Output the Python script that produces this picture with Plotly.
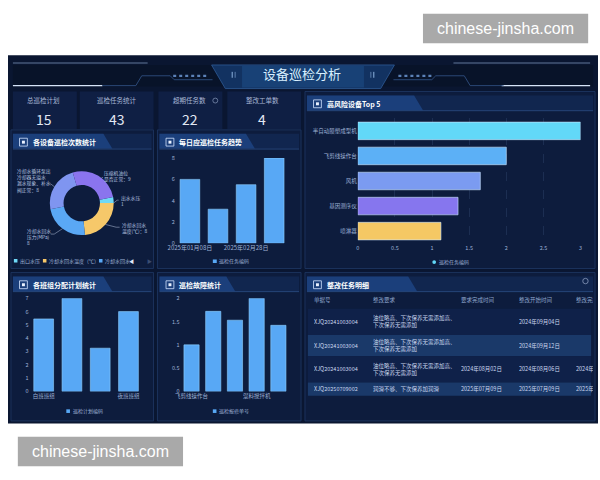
import plotly.graph_objects as go

W, H = 600, 480
FONT = "Noto Sans CJK SC, Noto Sans, sans-serif"

# ---------------- data ----------------
dashboard_title = "设备巡检分析"
kpi_labels = ["总巡检计划", "巡检任务统计", "超期任务数", "整改工单数"]
kpi_values = [15, 43, 22, 4]

donut_labels = ["出口水压", "冷却水回水温度（℃）", "冷却水回水压力（MPa）",
                "冷却水循环泵出冷却器无溢水漏水现象、补水阀正常", "压缩机油位是否正常"]
donut_values = [1, 8, 8, 8, 9]
donut_colors = ["#6fd9f7", "#f6c86a", "#5aa8f5", "#7f95f0", "#8a74ee"]
donut_label_text = ["出水水压<br>1", "冷却水回水<br>温度(℃)：8", "冷却水回水<br>压力(MPa)<br>8",
                    "冷却水循环泵出<br>冷却器无溢水<br>漏水现象、补水<br>阀正常：8", "压缩机油位<br>是否正常：9"]
donut_legend = ["出口水压", "冷却水回水温度（℃）", "冷却水回水"]

trend_dates = ["2025年01月08日", "2025年02月10日", "2025年02月28日", "2025年03月12日"]
trend_values = [6, 3.2, 5.5, 8]
trend_series = "巡检任务编码"

top5_names = ["半自动膜塑成型机", "飞剪线操作台", "风机", "基因测序仪", "喷淋器"]
top5_values = [3, 2, 1.65, 1.35, 1.12]
top5_colors = ["#62d8f8", "#5cb0f6", "#7b9bf1", "#8676ee", "#f5c864"]
top5_series = "巡检任务编码"

team_names = ["白班班组", "中班班组", "早班班组", "夜班班组"]
team_values = [5.45, 7, 3.25, 6]
team_series = "巡检计划编码"

fault_names = ["飞剪线操作台", "注塑机", "冷却塔", "混料搅拌机", "空压机"]
fault_values = [1, 1.72, 1.53, 2, 1.42]
fault_series = "巡检报修单号"

tbl_headers = ["单据号", "整改要求", "要求完成时间", "整改开始时间", "整改完成时间"]
tbl_ids = ["XJQ20241003004", "XJQ20241003004", "XJQ20241003004", "XJQ20250709002"]
tbl_req = ["油位略高、下次保养无需添加高、<br>下次保养无需添加",
           "油位略高、下次保养无需添加高、<br>下次保养无需添加",
           "油位略高、下次保养无需添加高、<br>下次保养无需添加",
           "润滑不够、下次保养加润滑"]
tbl_due = ["", "", "2024年08月02日", "2025年07月09日"]
tbl_start = ["2024年09月04日", "2024年09月12日", "2024年08月06日", "2025年07月09日"]
tbl_done = ["", "", "2024年08月10日", "2025年07月10日"]

watermark = "chinese-jinsha.com"

# ---------------- helpers ----------------
BG = "#0a1631"
PANEL_BG = "#0d1c3d"
PANEL_BORDER = "#1f3866"
TICK = "#9fb2d6"
BAR = "#58a8f5"
BAR_LINE = "#8fd0ff"


def px(x):
    return x / W


def py(y):
    return 1 - y / H


shapes = []
annotations = []


def rect(x0, y0, x1, y1, fill, line=None, lw=0, opacity=1):
    shapes.append(dict(type="rect", xref="paper", yref="paper",
                       x0=px(x0), x1=px(x1), y0=py(y1), y1=py(y0),
                       fillcolor=fill, opacity=opacity, layer="below",
                       line=dict(color=line or "rgba(0,0,0,0)", width=lw)))


def circle(x0, y0, x1, y1, fill, line=None, lw=0):
    shapes.append(dict(type="circle", xref="paper", yref="paper",
                       x0=px(x0), x1=px(x1), y0=py(y1), y1=py(y0),
                       fillcolor=fill, layer="below",
                       line=dict(color=line or "rgba(0,0,0,0)", width=lw)))


def poly(points, fill=None, line=None, lw=0, closed=True):
    d = "M " + " L ".join(f"{px(x):.5f},{py(y):.5f}" for x, y in points)
    if closed:
        d += " Z"
    shapes.append(dict(type="path", xref="paper", yref="paper", path=d,
                       fillcolor=fill or "rgba(0,0,0,0)", layer="below",
                       line=dict(color=line or "rgba(0,0,0,0)", width=lw)))


def seg(x0, y0, x1, y1, color, w=1, dash="solid"):
    shapes.append(dict(type="line", xref="paper", yref="paper",
                       x0=px(x0), y0=py(y0), x1=px(x1), y1=py(y1), layer="below",
                       line=dict(color=color, width=w, dash=dash)))


def text(x, y, s, size, color, xanchor="center", yanchor="middle", bold=False,
         align="left", family=FONT, width=None):
    a = dict(xref="paper", yref="paper", x=px(x), y=py(y),
             text=f"<b>{s}</b>" if bold else s, showarrow=False,
             xanchor=xanchor, yanchor=yanchor, align=align, borderpad=0,
             font=dict(family=family, size=size, color=color))
    if width is not None:
        a["width"] = width
    annotations.append(a)


def panel(x0, y0, x1, y1, title, light_end):
    rect(x0, y0, x1, y1, PANEL_BG, PANEL_BORDER, 0.8)
    poly([(x0 + 2, y0 + 4), (x1 - 2, y0 + 4), (x1 - 2, y0 + 19), (x0 + 2, y0 + 19)],
         fill="rgba(22,48,95,0.55)")
    poly([(x0 + 2, y0 + 4), (light_end, y0 + 4), (light_end + 9, y0 + 19), (x0 + 2, y0 + 19)],
         fill="#1b3f7b")
    seg(x0 + 2, y0 + 19.5, x1 - 2, y0 + 19.5, "#2c4f88", 0.8)
    rect(x0 + 8.7, y0 + 8.5, x0 + 16.7, y0 + 16.5, "rgba(0,0,0,0)", "#d3e3ff", 0.8)
    rect(x0 + 11.2, y0 + 11, x0 + 14.2, y0 + 14, "#eaf2ff")
    text(x0 + 21, y0 + 12.5, title, 7, "#ffffff", xanchor="left", bold=True)


# ---------------- background ----------------
rect(0, 52, 600, 426.5, BG)

# header decoration
poly([(5, 62), (595, 62), (595, 84), (5, 84)], fill="#081329")
seg(5, 60, 142, 60, "rgba(170,200,240,0.55)", 1)
seg(5, 83, 96, 83, "#d6e4f8", 1.4)
poly([(96, 83), (130, 83), (136, 73), (165, 73), (169, 77), (208, 77)],
     line="#34568a", lw=0.8, closed=False)
seg(168, 73, 203, 73, "#5c82b8", 2.2, "dot")
seg(453, 60, 592, 60, "rgba(170,200,240,0.55)", 1)
seg(502, 83, 592, 83, "#d6e4f8", 1.4)
poly([(504, 83), (470, 83), (464, 73), (435, 73), (431, 77), (392, 77)],
     line="#34568a", lw=0.8, closed=False)
seg(397, 73, 432, 73, "#5c82b8", 2.2, "dot")
poly([(207, 62), (393, 62), (379, 86), (221, 86)], fill="#123261", line="#2f5b95", lw=0.8)
rect(238, 63, 362, 85, "#1d4f88", opacity=0.55)
seg(228, 69, 228, 75, "#8fb4e0", 1)
seg(231, 69, 231, 75, "#8fb4e0", 0.6)
seg(369, 69, 369, 75, "#8fb4e0", 0.6)
seg(372, 69, 372, 75, "#8fb4e0", 1)
text(299, 71, dashboard_title, 13, "#d8f0ff")

# KPI boxes
kpi_boxes = [(5, 70), (73, 148), (153, 218), (223, 298)]
kpi_centers = [36.5, 110.7, 185, 258.5]
for (bx0, bx1), cx, lab, val in zip(kpi_boxes, kpi_centers, kpi_labels, kpi_values):
    rect(bx0, 89, bx1, 127, "#0f1f44")
    text(cx, 97.7, lab, 6.5, "#a9b8d6")
    text(cx, 116.5, str(val), 14, "#e2e8f3")
circle(208.3, 95.7, 213.3, 100.7, "rgba(0,0,0,0)", "#8899bb", 0.7)

# panels
panel(3, 128, 148, 269, "各设备巡检次数统计", 97)
panel(152, 128, 298, 269, "每日应巡检任务趋势", 242)
panel(302, 89, 597, 269, "高风险设备Top 5", 413)
panel(3, 273, 148, 424, "各班组分配计划统计", 97)
panel(152, 273, 298, 424, "巡检故障统计", 222)
panel(302, 273, 597, 424, "整改任务明细", 407)
circle(584.5, 279, 590, 284.5, "rgba(0,0,0,0)", "#8a9bbd", 0.8)

# ---------------- donut labels & legend ----------------
LBL = "#b9c7e1"
poly([(107.3, 202.5), (111, 199.5), (112.5, 199.5)], line=LBL, lw=0.5, closed=False)
poly([(99.2, 224.2), (110, 227), (113.5, 227)], line=LBL, lw=0.5, closed=False)
poly([(55.4, 228.5), (47, 234), (43.5, 234)], line=LBL, lw=0.5, closed=False)
poly([(47.1, 185.8), (43.5, 183), (42.5, 183)], line=LBL, lw=0.5, closed=False)
poly([(92.5, 180.5), (95.5, 176.5), (96.5, 176.5)], line=LBL, lw=0.5, closed=False)
text(113.5, 200, donut_label_text[0], 4.8, LBL, xanchor="left")
text(114.5, 227.5, donut_label_text[1], 4.8, LBL, xanchor="left")
text(18, 236, donut_label_text[2], 4.8, LBL, xanchor="left")
text(8, 179.5, donut_label_text[3], 4.8, LBL, xanchor="left")
text(97, 174.5, donut_label_text[4], 4.8, LBL, xanchor="left")

leg_x = [6, 35.5, 92.5]
for lx, lt, lc in zip(leg_x, donut_legend, donut_colors[:3]):
    rect(lx, 259.3, lx + 3.6, 262.9, lc)
    text(lx + 5, 261.2, lt, 5, TICK, xanchor="left")
text(125.5, 261, "◀", 5, "#e0e8f8")
text(143.5, 261, "▶", 5, "#3a4d72")

# bar-chart legends
rect(208.3, 259.8, 212.3, 263.4, BAR)
text(214, 261.6, trend_series, 5, TICK, xanchor="left")
circle(431.5, 260.5, 435.3, 264.3, top5_colors[0])
text(437, 262.4, top5_series, 5, TICK, xanchor="left")
rect(59.3, 412.2, 63, 415.9, BAR)
text(65, 414, team_series, 5, TICK, xanchor="left")
rect(208.3, 412.2, 212, 415.9, BAR)
text(214, 414, fault_series, 5, TICK, xanchor="left")

# ---------------- detail table (built from the table arrays) ----------------
col_left = [310, 370, 459.3, 518.3, 576.7]
col_width = [58, 88, 58, 57, 17]
row_bounds = [(310, 336.7), (336.7, 358.3), (358.3, 385), (385, 398.5)]
row_fill = ["#0f2149", "#1a3969", "#0f2149", "#1a3969"]
for h, cl, cw in zip(tbl_headers, col_left, col_width):
    text(cl, 300.7, h, 5.5, "#8ea5cc", xanchor="left", width=cw)
columns = [tbl_ids, tbl_req, tbl_due, tbl_start, tbl_done]
for r, ((r0, r1), fill) in enumerate(zip(row_bounds, row_fill)):
    rect(305, r0, 593, r1, fill)
    for col, cl, cw in zip(columns, col_left, col_width):
        if col[r]:
            text(cl, (r0 + r1) / 2, col[r], 5.5, "#c9d6ee", xanchor="left", width=cw)

# watermarks
rect(422, 10, 590, 40, "#a9a9a9")
text(506, 25, watermark, 16, "#ffffff", family="Liberation Sans, Arial, sans-serif")
rect(10, 440, 178, 470, "#a9a9a9")
text(94, 455, watermark, 16, "#ffffff", family="Liberation Sans, Arial, sans-serif")

# ---------------- traces ----------------
fig = go.Figure()

fig.add_trace(go.Pie(
    values=donut_values, labels=donut_labels, sort=False, direction="clockwise",
    rotation=79, hole=0.57, textinfo="none", showlegend=False,
    marker=dict(colors=donut_colors, line=dict(width=0)),
    domain=dict(x=[px(42.5), px(107.5)], y=[py(235), py(170)]),
))

bar_marker = dict(color=BAR, line=dict(color=BAR_LINE, width=0.6))
fig.add_trace(go.Bar(x=trend_dates, y=trend_values, marker=bar_marker,
                     xaxis="x", yaxis="y", showlegend=False, name=trend_series))
fig.add_trace(go.Bar(y=top5_names, x=top5_values, orientation="h",
                     marker=dict(color=top5_colors, line=dict(color="#cfe8ff", width=0.6)),
                     xaxis="x2", yaxis="y2", showlegend=False, name=top5_series))
fig.add_trace(go.Bar(x=team_names, y=team_values, marker=bar_marker,
                     xaxis="x3", yaxis="y3", showlegend=False, name=team_series))
fig.add_trace(go.Bar(x=fault_names, y=fault_values, marker=bar_marker,
                     xaxis="x4", yaxis="y4", showlegend=False, name=fault_series))

tickfont = dict(family=FONT, size=5.5, color=TICK)
base_ax = dict(tickfont=tickfont, showgrid=False, zeroline=False, showline=False,
               ticks="", fixedrange=True)

fig.update_layout(
    width=W, height=H, margin=dict(l=0, r=0, t=0, b=0),
    paper_bgcolor="#ffffff", plot_bgcolor="rgba(0,0,0,0)",
    bargap=0.3, shapes=shapes, annotations=annotations,
    font=dict(family=FONT),
    xaxis=dict(base_ax, domain=[px(170.7), px(285)], anchor="y", type="category",
               tickvals=[trend_dates[0], trend_dates[2]],
               tickfont=dict(family=FONT, size=6, color=TICK)),
    yaxis=dict(base_ax, domain=[py(243.3), py(156.7)], anchor="x", range=[0, 8], dtick=2),
    xaxis2=dict(base_ax, domain=[px(355.7), px(582.3)], anchor="y2", range=[0, 3], dtick=0.5,
                showgrid=True, gridcolor="rgba(110,140,190,0.16)", griddash="dash"),
    yaxis2=dict(base_ax, domain=[py(243.7), py(116.3)], anchor="x2", type="category",
                autorange="reversed"),
    xaxis3=dict(base_ax, domain=[px(21.9), px(136.9)], anchor="y3", type="category",
                tickvals=[team_names[0], team_names[3]]),
    yaxis3=dict(base_ax, domain=[py(394), py(299.3)], anchor="x3", range=[0, 7], dtick=1),
    xaxis4=dict(base_ax, domain=[px(175.6), px(286)], anchor="y4", type="category",
                tickvals=[fault_names[0], fault_names[3]]),
    yaxis4=dict(base_ax, domain=[py(394), py(299.3)], anchor="x4", range=[0, 2], dtick=0.5),
)

fig.write_html("out.html", config={"displayModeBar": False},
               post_script="document.body.style.margin='0';document.body.style.overflow='hidden';")
